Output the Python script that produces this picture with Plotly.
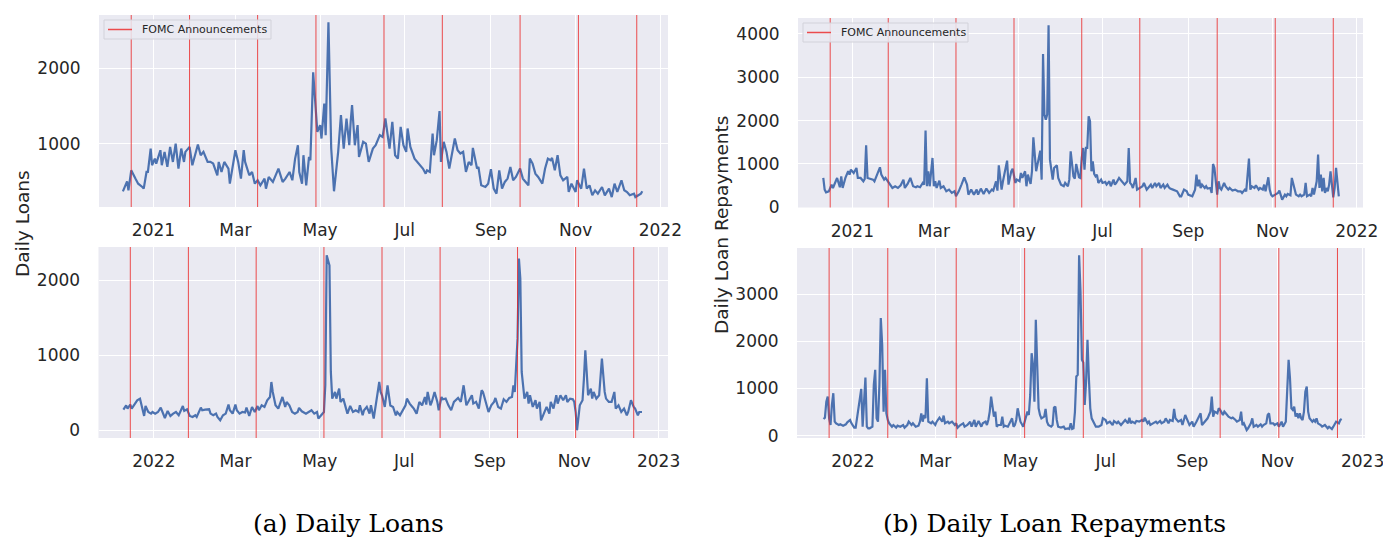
import pandas as pd
import plotly.graph_objects as go

# ---------------- data (day offset from Jan 1 of the panel year, value) ----------------
loans_2021 = [(-22,372),(-19,504),(-18,385),(-16,650),(-13,540),(-11,473),(-8,429),(-7,407),(-5,628),(-4,628),
 (-2,938),(-1,717),(1,805),(2,739),(5,916),(6,717),(8,894),(10,695),(12,960),(14,761),
 (16,1004),(18,673),(20,938),(22,761),(23,894),(26,960),(28,717),(30,850),(32,991),(34,850),
 (36,894),(39,761),(41,761),(43,739),(46,584),(47,761),(49,628),(51,761),(54,673),(55,473),
 (57,673),(59,916),(61,761),(63,540),(65,916),(66,761),(69,584),(71,628),(73,473),(75,518),
 (77,451),(80,540),(81,407),(83,562),(86,496),(88,584),(90,672),(93,496),(95,540),(98,628),
 (100,518),(102,805),(104,982),(105,628),(107,473),(108,850),(110,451),(112,827),(113,783),(115,1947),
 (117,1380),(118,1159),(120,1248),(121,1071),(123,1535),(124,1115),(126,2611),(128,938),(130,372),(133,894),
 (135,1380),(137,938),(139,1336),(141,982),(142,1292),(143,1513),(145,982),(147,1248),(148,827),(151,1027),
 (153,1004),(155,761),(158,938),(160,982),(163,1115),(165,1093),(167,1336),
 (169,1027),(170,938),(172,1292),(174,850),(176,805),(178,1226),(180,982),(182,894),(183,1204),(185,960),
 (188,805),(190,761),(192,717),(194,673),(196,606),(197,650),(199,628),(201,1137),(202,850),(204,1049),
 (206,1434),(207,761),(209,1027),(211,894),(213,673),(215,894),(217,1071),(219,916),(221,872),(223,894),
 (225,628),(227,761),(229,717),(230,947),(233,673),(234,695),(236,451),(239,429),(241,473),(243,664),
 (245,407),(247,341),(249,650),(251,407),(253,496),(255,540),(257,695),(259,518),(261,562),(264,673),
 (266,540),(268,496),(270,451),(271,805),(273,739),(275,606),(277,562),(280,473),(282,673),(284,805),
 (286,783),(287,814),(289,650),(291,850),(293,584),(295,518),(298,562),(299,363),(301,473),(304,363),
 (305,518),(308,407),(310,673),(312,407),(314,451),(316,319),(318,385),(320,341),(323,429),(325,319),
 (328,407),(330,296),(332,473),(334,363),(337,518),(339,385),(341,363),(343,319),(346,341),(347,296),
 (349,319),(351,341),(352,372)]

loans_2022 = [(-22,276),(-20,333),(-19,289),(-17,342),(-16,289),(-14,342),(-12,400),(-10,422),(-9,356),(-7,191),
 (-6,324),(-4,244),(-2,222),(-1,244),(1,222),(3,244),(5,302),(7,222),(8,164),(10,258),
 (12,191),(14,222),(16,244),(18,200),(19,244),(21,324),(22,258),(24,280),(26,191),(28,178),
 (30,200),(31,178),(34,302),(35,267),(37,276),(40,280),(41,222),(43,200),(45,222),(46,178),
 (48,133),(50,200),(52,222),(54,342),(55,267),(57,222),(59,342),(60,267),(62,222),(64,244),
 (66,236),(67,302),(69,191),(71,311),(73,244),(75,324),(76,267),(78,333),(80,311),(82,400),
 (84,444),(85,644),(86,511),(88,333),(90,289),(92,378),(93,444),(95,311),(96,378),(98,333),
 (100,244),(102,222),(104,244),(105,298),(107,253),(110,222),(112,244),(114,267),(116,222),(118,244),
 (119,156),(121,200),(123,244),(124,600),(125,2333),(127,2200),(128,778),(129,422),(131,511),(132,422),
 (134,556),(135,378),(137,422),(139,289),(140,222),(142,324),(144,244),(146,267),(148,244),(149,333),
 (151,200),(152,267),(154,311),(156,222),(157,333),(159,156),(161,378),(163,644),(164,511),(165,467),
 (167,311),(169,600),(171,330),(173,311),(175,200),(176,244),(178,200),(180,267),(182,333),(183,422),
 (185,356),(187,311),(188,289),(190,222),(192,378),(194,333),(196,444),(197,342),(198,511),(200,333),
 (201,378),(203,511),(205,378),(206,267),(208,444),(209,413),(211,422),(213,333),(215,267),(217,378),
 (218,400),(220,431),(222,378),(224,600),(225,467),(226,333),(228,400),(230,467),(231,356),(233,378),
 (235,289),(237,533),(238,511),(240,378),(242,244),(244,333),(246,378),(247,431),(249,311),(251,289),
 (253,413),(255,378),(257,431),(259,444),(260,600),(261,511),(263,1222),(264,2289),(265,2022),(266,778),
 (267,556),(268,422),(270,511),(271,356),(272,467),(274,311),(276,400),(277,289),(279,378),(280,133),
 (282,222),(284,311),(286,222),(287,378),(289,289),(291,467),(292,356),(294,467),(296,400),(298,467),
 (299,378),(301,422),(303,413),(304,378),(305,244),(306,0),(308,333),(310,400),(311,689),(312,1067),
 (313,778),(314,467),(316,556),(317,422),(318,511),(320,422),(322,467),(323,689),(324,956),(326,511),
 (327,422),(329,378),(331,378),(333,511),(334,289),(336,333),(338,244),(340,289),(342,200),(343,244),
 (345,400),(347,311),(348,289),(350,200),(351,244),(353,244)]

repay_2021 = [(-21,677),(-20,408),(-19,346),(-17,369),(-15,523),(-14,446),(-12,600),(-11,677),(-9,462),(-8,715),
 (-7,446),(-5,677),(-3,831),(-2,754),(-1,869),(1,792),(3,908),(4,677),(6,677),(8,600),
 (9,654),(10,1431),(11,677),(13,662),(15,638),(16,600),(18,754),(20,923),(21,754),(23,638),
 (24,677),(26,585),(28,485),(29,446),(31,485),(33,446),(35,508),(37,638),(38,446),(40,538),
 (42,677),(44,485),(46,462),(47,485),(49,462),(51,562),(52,523),(53,1769),(54,485),(55,831),
 (56,485),(57,831),(58,1138),(59,485),(60,600),(61,446),(63,615),(64,446),(66,485),(68,369),
 (70,408),(72,331),(74,369),(75,254),(77,369),(79,523),(81,692),(83,523),(84,292),(86,408),
 (88,292),(90,408),(91,292),(93,431),(95,308),(97,431),(99,331),(101,408),(102,385),(104,600),
 (105,385),(106,969),(108,408),(109,600),(110,754),(112,1077),(113,523),(115,831),(116,892),(118,562),
 (119,638),(121,600),(122,792),(123,677),(125,831),(126,485),(127,754),(129,538),(130,831),(131,1615),
 (133,831),(134,969),(136,1308),(137,638),(138,3538),(139,2138),(140,2023),(141,2138),(142,4200),(143,1100),
 (144,831),(145,638),(146,908),(148,969),(149,677),(151,523),(153,485),(154,562),(156,485),(157,638),
 (158,1292),(160,715),(161,662),(162,1000),(164,692),(165,677),(166,1138),(167,1369),(168,869),(169,1369),
 (170,1369),(171,2100),(172,1985),(173,831),(174,1062),(175,769),(176,715),(177,754),(178,562),(180,638),
 (181,562),(183,585),(184,523),(186,600),(187,485),(189,638),(190,523),(191,562),(193,677),(194,638),
 (196,562),(197,523),(199,600),(200,1369),(201,562),(202,523),(203,446),(205,677),(206,408),(208,446),
 (210,485),(211,562),(213,408),(214,446),(216,523),(217,446),(219,562),(220,485),(222,562),(223,446),
 (225,523),(226,446),(228,523),(229,462),(230,431),(232,408),(234,385),(235,369),(237,254),(238,254),
 (240,408),(242,369),(243,292),(245,254),(246,254),(248,408),(249,754),(250,485),(251,638),(252,446),
 (253,523),(255,446),(256,485),(257,431),(259,446),(260,331),(261,1000),(262,908),(264,292),(265,600),
 (266,446),(267,408),(269,562),(270,485),(272,408),(273,446),(275,385),(277,408),(279,369),(281,369),
 (282,331),(284,408),(285,369),(287,1123),(288,408),(289,485),(291,446),(292,508),(294,408),(295,446),
 (297,408),(298,523),(299,369),(301,692),(302,408),(303,292),(304,254),(306,292),(308,331),(309,385),
 (310,254),(311,177),(313,292),(314,254),(315,308),(317,277),(318,677),(320,408),(321,292),(323,254),
 (324,292),(325,254),(327,292),(328,562),(329,254),(331,292),(332,254),(333,446),(334,292),(336,600),
 (337,1215),(338,446),(339,754),(340,369),(341,677),(342,331),(343,446),(344,369),(345,523),(346,831),
 (347,523),(348,231),(349,446),(350,908),(352,254)]

repay_2022 = [(-21,354),(-20,382),(-19,722),(-18,828),(-17,368),(-16,226),(-15,651),(-14,899),(-13,297),(-12,262),
 (-10,226),(-9,241),(-7,212),(-5,241),(-4,283),(-2,333),(-1,262),(1,170),(2,170),(3,368),
 (5,722),(6,991),(7,191),(8,722),(9,1231),(10,191),(11,156),(12,156),(14,191),(15,1076),
 (16,1394),(17,368),(18,297),(19,1076),(20,2491),(21,1925),(22,510),(23,1394),(24,474),(25,333),
 (26,262),(28,191),(29,226),(31,170),(32,212),(34,191),(36,226),(37,170),(39,226),(40,297),
 (42,226),(43,262),(45,191),(47,212),(48,297),(49,474),(50,297),(51,438),(52,368),(53,1217),
 (54,297),(56,262),(57,297),(59,226),(60,297),(62,382),(64,297),(65,425),(66,262),(68,297),
 (69,262),(71,297),(73,226),(74,262),(75,170),(77,226),(79,262),(80,191),(82,226),(84,297),
 (85,191),(87,333),(88,191),(90,311),(92,191),(93,262),(95,297),(96,226),(97,333),(98,510),
 (99,828),(101,404),(102,510),(103,191),(104,226),(106,226),(107,404),(108,191),(109,212),(111,191),
 (112,262),(114,368),(115,191),(116,226),(117,333),(118,580),(120,297),(121,226),(122,191),(123,297),
 (124,438),(125,510),(126,438),(127,863),(128,1748),(129,1500),(130,720),(131,2456),(132,1500),(133,580),
 (134,438),(135,368),(137,404),(138,566),(139,297),(140,226),(142,191),(143,226),(144,594),(145,616),
 (146,333),(147,191),(149,170),(151,191),(152,142),(154,156),(155,142),(156,262),(157,142),(158,156),
 (159,500),(160,1253),(161,1288),(162,3822),(163,3057),(164,1607),(165,1550),(166,651),(167,1146),(168,2031),
 (169,1217),(170,580),(171,368),(173,262),(174,191),(176,191),(178,226),(179,368),(181,333),(182,262),
 (184,297),(186,226),(187,311),(189,262),(190,297),(192,226),(193,262),(195,333),(197,262),(198,382),
 (199,262),(200,297),(202,262),(203,311),(205,297),(207,333),(208,297),(209,382),(211,262),(212,297),
 (213,226),(215,262),(217,297),(218,262),(220,311),(221,262),(223,297),(224,368),(226,262),(227,333),
 (229,311),(230,566),(231,368),(233,297),(235,333),(236,226),(238,438),(239,368),(241,226),(243,297),
 (244,191),(246,297),(247,368),(249,474),(250,226),(252,297),(254,368),(255,438),(256,510),(257,828),
 (258,404),(259,510),(261,474),(262,580),(263,545),(265,438),(266,510),(267,474),(269,404),(271,368),
 (272,382),(274,333),(275,297),(277,333),(278,510),(279,226),(280,262),(282,120),(283,156),(285,262),
 (286,368),(287,191),(289,226),(290,191),(292,241),(293,191),(294,226),(296,262),(297,438),(298,474),
 (299,262),(301,262),(302,226),(304,262),(305,191),(307,297),(308,191),(310,297),(311,934),(312,1607),
 (313,1217),(314,580),(315,545),(316,616),(317,404),(318,474),(319,368),(320,474),(321,368),(322,333),
 (323,510),(324,934),(325,1040),(326,510),(327,368),(329,297),(330,333),(331,297),(332,368),(333,262),
 (335,226),(336,191),(338,226),(340,156),(341,191),(343,142),(344,191),(346,297),(348,262),(349,333),(350,354)]

fomc_2021 = ["2020-12-16", "2021-01-27", "2021-03-17", "2021-04-28", "2021-06-16",
             "2021-07-28", "2021-09-22", "2021-11-03", "2021-12-15"]
fomc_2022 = ["2021-12-15", "2022-01-26", "2022-03-16", "2022-05-04", "2022-06-15",
             "2022-07-27", "2022-09-21", "2022-11-02", "2022-12-14"]

tick_text_2021 = ["2021", "Mar", "May", "Jul", "Sep", "Nov", "2022"]
tick_text_2022 = ["2022", "Mar", "May", "Jul", "Sep", "Nov", "2023"]
tick_dates_2021 = ["2021-01-01", "2021-03-01", "2021-05-01", "2021-07-01", "2021-09-01", "2021-11-01", "2022-01-01"]
tick_dates_2022 = ["2022-01-01", "2022-03-01", "2022-05-01", "2022-07-01", "2022-09-01", "2022-11-01", "2023-01-01"]

ylabel_left = "Daily Loans"
ylabel_right = "Daily Loan Repayments"
caption_left = "(a) Daily Loans"
caption_right = "(b) Daily Loan Repayments"
legend_label = "FOMC Announcements"

# ---------------- figure ----------------
W, H = 1383, 538
BLUE = "#4C72B0"
RED = "rgba(235,35,35,0.8)"
BG = "#EAEAF2"
TXT = "#262626"
FONT = "DejaVu Sans, sans-serif"


def series_xy(series, year):
    base = pd.Timestamp(f"{year}-01-01")
    xs = [base + pd.Timedelta(days=d) for d, _ in series]
    ys = [v for _, v in series]
    return xs, ys


def px_x(a, b):
    return [a / W, b / W]


def px_y(top, bottom):
    return [1 - bottom / H, 1 - top / H]


panels = [
    (loans_2021, 2021, "", (99, 668), (15, 207), ["2020-11-22 19:00", "2022-01-06 12:00"], [164, 2707],
     tick_dates_2021, tick_text_2021, fomc_2021),
    (loans_2022, 2022, "2", (98.5, 668), (247, 438), ["2021-11-22 00:00", "2023-01-07 19:00"], [-103, 2444],
     tick_dates_2022, tick_text_2022, fomc_2022),
    (repay_2021, 2021, "3", (798, 1363), (18, 207.5), ["2020-11-22 17:00", "2022-01-05 12:00"], [-5, 4369],
     tick_dates_2021, tick_text_2021, fomc_2021),
    (repay_2022, 2022, "4", (797, 1365), (248, 438), ["2021-11-22 00:00", "2023-01-02 17:00"], [-49, 3976],
     tick_dates_2022, tick_text_2022, fomc_2022),
]

fig = go.Figure()
layout = dict(
    width=W, height=H,
    margin=dict(l=0, r=0, t=0, b=0, autoexpand=False),
    paper_bgcolor="white",
    plot_bgcolor=BG,
    font=dict(family=FONT, color=TXT, size=17),
    showlegend=False,
)

for series, year, ax, dx, dy, xr, yr, tv, tt, fomc in panels:
    xs, ys = series_xy(series, year)
    xa = "x" + ax
    ya = "y" + ax
    fig.add_trace(go.Scatter(x=xs, y=ys, mode="lines", line=dict(color=BLUE, width=2.2),
                             xaxis=xa, yaxis=ya, showlegend=False, hoverinfo="skip"))
    for d in fomc:
        fig.add_shape(type="line", xref=xa, yref=ya + " domain", x0=d, x1=d, y0=0, y1=1,
                      line=dict(color=RED, width=1), layer="above")
    layout["xaxis" + ax] = dict(
        domain=px_x(*dx), anchor=ya, range=xr, type="date", automargin=False,
        tickmode="array", tickvals=tv, ticktext=tt, ticklabeloverflow="allow",
        showgrid=True, gridcolor="white", gridwidth=1.4, zeroline=False, showline=False,
        ticks="outside", ticklen=8, tickcolor="rgba(0,0,0,0)",
        tickfont=dict(family=FONT, size=17, color=TXT),
    )
    layout["yaxis" + ax] = dict(
        domain=px_y(*dy), anchor=xa, range=yr, dtick=1000, tick0=0, automargin=False,
        showgrid=True, gridcolor="white", gridwidth=1.4, zeroline=False, showline=False,
        ticks="outside", ticklen=14, tickcolor="rgba(0,0,0,0)",
        tickfont=dict(family=FONT, size=17, color=TXT),
    )

fig.update_layout(**layout)

# legend boxes drawn in the top-left corner of each upper panel (matplotlib-style compact legend)
for (bx0, by0, bx1, by1) in [(104, 20, 271, 39), (803, 23, 968, 42)]:
    fig.add_shape(type="rect", xref="paper", yref="paper",
                  x0=bx0 / W, x1=bx1 / W, y0=1 - by1 / H, y1=1 - by0 / H,
                  fillcolor="rgba(234,234,242,0.85)", line=dict(color="#d2d2da", width=1), layer="above")
    ym = (by0 + by1) / 2
    fig.add_shape(type="line", xref="paper", yref="paper",
                  x0=(bx0 + 4) / W, x1=(bx0 + 28) / W, y0=1 - ym / H, y1=1 - ym / H,
                  line=dict(color=RED, width=1.5), layer="above")
    fig.add_annotation(text=legend_label, x=(bx0 + 36) / W, y=1 - ym / H, xref="paper", yref="paper",
                       xanchor="left", yanchor="middle", showarrow=False,
                       font=dict(family=FONT, size=11, color=TXT))

# y-axis titles and captions
fig.add_annotation(text=ylabel_left, x=22 / W, y=1 - 224 / H, xref="paper", yref="paper",
                   xanchor="center", yanchor="middle",
                   textangle=-90, showarrow=False, font=dict(family=FONT, size=18.5, color=TXT))
fig.add_annotation(text=ylabel_right, x=722 / W, y=1 - 225 / H, xref="paper", yref="paper",
                   xanchor="center", yanchor="middle",
                   textangle=-90, showarrow=False, font=dict(family=FONT, size=18.5, color=TXT))
fig.add_annotation(text=caption_left, x=348 / W, y=1 - 523 / H, xref="paper", yref="paper",
                   xanchor="center", yanchor="middle",
                   showarrow=False, font=dict(family="DejaVu Serif, serif", size=25, color="black"))
fig.add_annotation(text=caption_right, x=1054 / W, y=1 - 523 / H, xref="paper", yref="paper",
                   xanchor="center", yanchor="middle",
                   showarrow=False, font=dict(family="DejaVu Serif, serif", size=25, color="black"))

fig.write_html("out.html", config={"displayModeBar": False},
               post_script="document.body.style.margin='0px';document.body.style.overflow='hidden';")
